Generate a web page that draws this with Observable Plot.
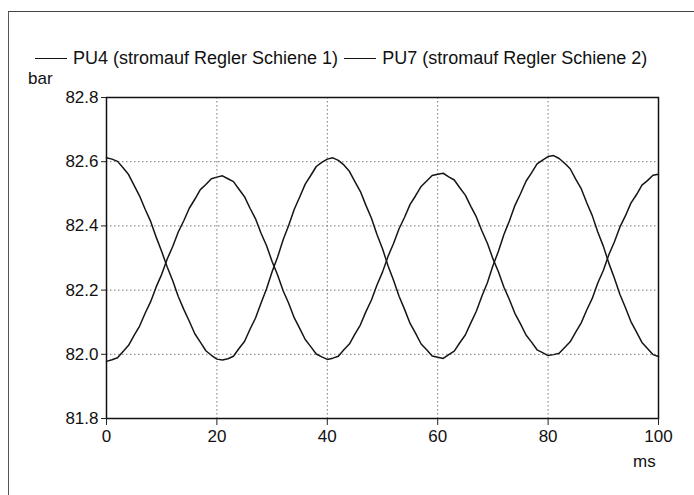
<!DOCTYPE html>
<html>
<head>
<meta charset="utf-8">
<script src="https://cdn.jsdelivr.net/npm/d3@7"></script>
<script src="https://cdn.jsdelivr.net/npm/@observablehq/plot@0.6"></script>
<style>
  html, body { margin: 0; padding: 0; background: #fff; overflow: hidden; }
  #wrap { position: relative; width: 694px; height: 495px; font-family: "Liberation Sans", Arial, sans-serif; color: #111; }
  #wrap svg { position: absolute; left: 0; top: 0; }
  .ov { position: absolute; line-height: 1; white-space: nowrap; }
  #outer { position: absolute; left: 8px; top: 11px; width: 720px; height: 520px; border-top: 1.5px solid #444; border-left: 1.5px solid #555; }
  #legend { position: absolute; left: 35px; top: 49px; display: flex; align-items: center; font-size: 18px; line-height: 1; }
  .sw { display: inline-block; width: 32px; height: 0; border-top: 1.3px solid #111; margin-right: 6px; }
  .item { display: flex; align-items: center; margin-right: 6px; }
</style>
</head>
<body>
<div id="wrap">
  <div id="outer"></div>
  <div id="legend"></div>
  <div class="ov" style="left:28px; top:70px; font-size:17px;">bar</div>
  <div class="ov" style="left:633px; top:453px; font-size:17px;">ms</div>
</div>
<script>
// time axis (ms), 1 ms steps
const timeMs = d3.range(0, 101);

// PU4 (stromauf Regler Schiene 1) — bar
const pu4 = [
  82.612, 82.608, 82.601, 82.581, 82.560, 82.526, 82.493, 82.452, 82.414, 82.365,
  82.320, 82.272, 82.229, 82.180, 82.140, 82.103, 82.064, 82.038, 82.011, 81.997,
  81.985, 81.982, 81.986, 81.994, 82.018, 82.040, 82.078, 82.113, 82.160, 82.204,
  82.257, 82.303, 82.357, 82.401, 82.451, 82.490, 82.530, 82.557, 82.585, 82.598,
  82.608, 82.612, 82.604, 82.590, 82.570, 82.538, 82.507, 82.464, 82.424, 82.373,
  82.329, 82.276, 82.231, 82.181, 82.140, 82.096, 82.065, 82.032, 82.014, 81.995,
  81.991, 81.987, 81.999, 82.010, 82.036, 82.060, 82.098, 82.134, 82.181, 82.223,
  82.276, 82.321, 82.373, 82.416, 82.464, 82.500, 82.539, 82.565, 82.593, 82.605,
  82.616, 82.619, 82.610, 82.595, 82.578, 82.546, 82.516, 82.472, 82.432, 82.381,
  82.337, 82.284, 82.238, 82.187, 82.146, 82.102, 82.070, 82.037, 82.018, 81.999,
  81.993
];

// PU7 (stromauf Regler Schiene 2) — bar
const pu7 = [
  81.978, 81.983, 81.989, 82.009, 82.028, 82.059, 82.088, 82.128, 82.164, 82.210,
  82.249, 82.297, 82.336, 82.381, 82.416, 82.455, 82.483, 82.513, 82.529, 82.547,
  82.552, 82.556, 82.547, 82.538, 82.514, 82.491, 82.455, 82.422, 82.377, 82.338,
  82.289, 82.247, 82.198, 82.159, 82.114, 82.081, 82.046, 82.024, 82.001, 81.992,
  81.984, 81.988, 81.994, 82.014, 82.032, 82.063, 82.092, 82.133, 82.169, 82.216,
  82.256, 82.305, 82.345, 82.391, 82.427, 82.467, 82.494, 82.523, 82.540, 82.557,
  82.561, 82.564, 82.553, 82.543, 82.519, 82.496, 82.461, 82.428, 82.385, 82.346,
  82.298, 82.257, 82.209, 82.170, 82.127, 82.095, 82.060, 82.038, 82.014, 82.005,
  81.996, 81.999, 82.003, 82.021, 82.039, 82.069, 82.098, 82.138, 82.174, 82.222,
  82.261, 82.310, 82.350, 82.396, 82.431, 82.471, 82.497, 82.527, 82.541, 82.558,
  82.561
];

const seriesNames = ["PU4 (stromauf Regler Schiene 1)", "PU7 (stromauf Regler Schiene 2)"];
const xTicks = [0, 20, 40, 60, 80, 100];
const yTicks = [81.8, 82.0, 82.2, 82.4, 82.6, 82.8];
const xLabel = "ms";
const yLabel = "bar";

const rows = [
  ...timeMs.map((t, i) => ({t, v: pu4[i], s: seriesNames[0]})),
  ...timeMs.map((t, i) => ({t, v: pu7[i], s: seriesNames[1]}))
];

const chart = Plot.plot({
  width: 694,
  height: 495,
  marginLeft: 106,
  marginRight: 36,
  marginTop: 97,
  marginBottom: 77,
  style: {fontFamily: "'Liberation Sans', Arial, sans-serif", fontSize: "17px", color: "#111", background: "transparent", overflow: "visible"},
  x: {domain: [0, 100]},
  y: {domain: [81.8, 82.8]},
  marks: [
    Plot.gridX(xTicks.slice(1, -1), {stroke: "#777", strokeOpacity: 1, strokeDasharray: "1.5,2.5", strokeWidth: 1}),
    Plot.gridY(yTicks.slice(1, -1), {stroke: "#777", strokeOpacity: 1, strokeDasharray: "1.5,2.5", strokeWidth: 1}),
    Plot.line(rows, {x: "t", y: "v", z: "s", stroke: "#151515", strokeWidth: 1.5}),
    Plot.frame({stroke: "#111", strokeWidth: 1.5}),
    Plot.axisX(xTicks, {tickSize: 7, tickPadding: 4, label: null, stroke: "#222"}),
    Plot.axisY(yTicks, {tickSize: 5, tickPadding: 3, label: null, tickFormat: d3.format(".1f"), stroke: "#222"})
  ]
});

const wrap = document.getElementById("wrap");
wrap.insertBefore(chart, wrap.firstChild);

const legend = document.getElementById("legend");
for (const name of seriesNames) {
  const it = document.createElement("div");
  it.className = "item";
  const sw = document.createElement("span");
  sw.className = "sw";
  const tx = document.createElement("span");
  tx.textContent = name;
  it.appendChild(sw);
  it.appendChild(tx);
  legend.appendChild(it);
}
</script>
</body>
</html>
